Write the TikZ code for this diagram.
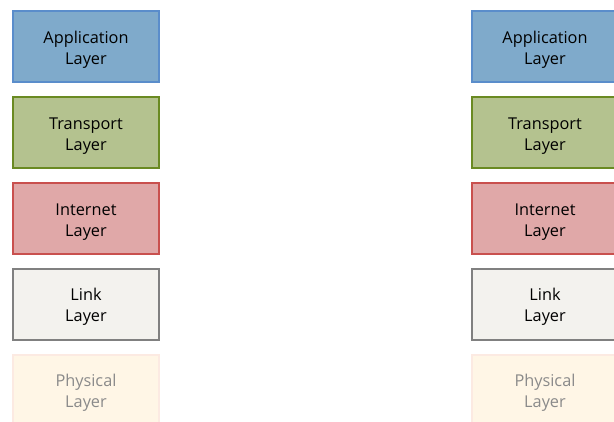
\documentclass[tikz,border=0pt]{standalone}
\usepackage{fontspec}
\setmainfont{Open Sans}
\definecolor{appfill}{HTML}{7FAACB}
\definecolor{appline}{HTML}{5A8DCB}
\definecolor{trfill}{HTML}{B4C28F}
\definecolor{trline}{HTML}{6A8A22}
\definecolor{infill}{HTML}{E0A8A8}
\definecolor{inline}{HTML}{C9504E}
\definecolor{lkfill}{HTML}{F3F2EE}
\definecolor{lkline}{HTML}{808080}
\definecolor{phfill}{HTML}{FFF6E6}
\definecolor{phline}{HTML}{FCEAE2}
\definecolor{phtext}{HTML}{8A8A8A}
% two-line layer label; the strut lowers the text a little inside its box
\newcommand{\layertext}[1]{\rule{0pt}{18pt}#1\\Layer}
\tikzset{
  layer/.style={rectangle, minimum width=146pt, minimum height=71pt, line width=2pt,
    align=center, font=\fontsize{16.3}{21}\selectfont, inner sep=0pt, text=black},
  app/.style={layer, draw=appline, fill=appfill},
  trn/.style={layer, draw=trline, fill=trfill},
  inet/.style={layer, draw=inline, fill=infill},
  lnk/.style={layer, draw=lkline, fill=lkfill},
  phy/.style={layer, draw=phline, fill=phfill, text=phtext}
}
\begin{document}
\begin{tikzpicture}[x=1pt,y=-1pt]
\path[use as bounding box] (0,0) rectangle (614,421);
\begin{scope}
\clip (0,0) rectangle (614,421);
% left protocol stack
\node[app]  (la) at (86,46.5)  {\layertext{Application}};
\node[trn]  (lt) at (86,132.5) {\layertext{Transport}};
\node[inet] (li) at (86,218.5) {\layertext{Internet}};
\node[lnk]  (ll) at (86,304)   {\layertext{Link}};
\node[phy]  (lp) at (86,390)   {\layertext{Physical}};
% right protocol stack
\node[app]  (ra) at (545,46.5)  {\layertext{Application}};
\node[trn]  (rt) at (545,132.5) {\layertext{Transport}};
\node[inet] (ri) at (545,218.5) {\layertext{Internet}};
\node[lnk]  (rl) at (545,304)   {\layertext{Link}};
\node[phy]  (rp) at (545,390)   {\layertext{Physical}};
\end{scope}
\end{tikzpicture}
\end{document}
